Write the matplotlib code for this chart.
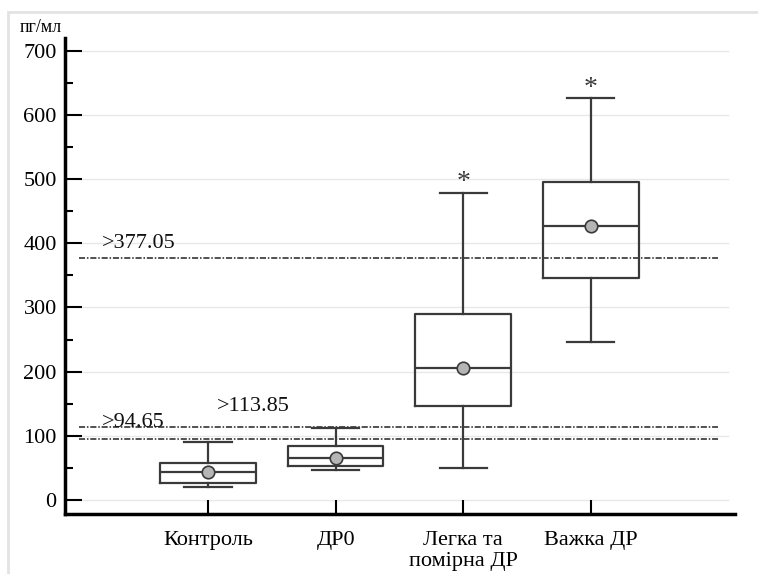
import matplotlib
matplotlib.use("Agg")
import matplotlib.pyplot as plt
from matplotlib.patches import Rectangle
from matplotlib.ticker import MultipleLocator

groups = ["Контроль", "ДР0", "Легка та\nпомірна ДР", "Важка ДР"]
whislo = [20, 47, 50, 246]
q1 = [27, 53, 147, 346]
med = [44, 66, 206, 427]
q3 = [58, 84, 289, 496]
whishi = [90, 112, 479, 626]
means = [44, 65, 206, 427]
starred = [False, False, True, True]

cutoffs = [377.05, 113.85, 94.65]
cutoff_labels = [">377.05", ">113.85", ">94.65"]
cutoff_label_pos = [(0.17, 400), (1.07, 145), (0.17, 120)]

plt.rcParams["font.family"] = ["Liberation Serif", "DejaVu Serif"]

fig = plt.figure(figsize=(7.58, 5.74), dpi=100)
fig.patches.append(Rectangle((8 / 758, -0.1), 1.0, 1.1 - 12 / 574,
                             transform=fig.transFigure, fill=False,
                             edgecolor="#e3e3e3", lw=2))
ax = fig.add_axes([0.0858, 0.1045, 0.8839, 0.8293])

stats = []
for i in range(len(groups)):
    stats.append(dict(whislo=whislo[i], q1=q1[i], med=med[i], q3=q3[i],
                      whishi=whishi[i], mean=means[i], fliers=[]))

line = dict(color="#3a3a3a", lw=1.6)
pos = list(range(1, len(groups) + 1))
ax.bxp(stats, positions=pos, widths=0.75, capwidths=0.37, showmeans=True,
       boxprops=line, whiskerprops=line, capprops=line, medianprops=line,
       meanprops=dict(marker="o", markerfacecolor="#b5b5b5",
                      markeredgecolor="#3a3a3a", markersize=9, markeredgewidth=1.2),
       zorder=3)

for i, s in enumerate(starred):
    if s:
        ax.text(pos[i], whishi[i] - 4, "*", ha="center", va="bottom",
                fontsize=20, color="#3a3a3a")

for v in range(0, 701, 100):
    ax.axhline(v, xmin=0.02, xmax=0.99, color="#e8e8e8", lw=1, zorder=0)

for c in cutoffs:
    ax.axhline(c, xmin=0.021, xmax=0.975, color="#222222", lw=1.1,
               linestyle=(0, (4, 1.2, 1, 1.2)), zorder=2)
for lab, (x, y) in zip(cutoff_labels, cutoff_label_pos):
    ax.text(x, y, lab, fontsize=16, ha="left", va="center", color="#111111")

ax.set_xlim(-0.12, 5.13)
ax.set_ylim(-22, 720)
ax.set_xticks(pos)
ax.set_xticklabels(groups, fontsize=16, va="top", linespacing=1.2)
ax.yaxis.set_major_locator(MultipleLocator(100))
ax.yaxis.set_minor_locator(MultipleLocator(50))
ax.tick_params(axis="y", which="major", direction="in", length=12, width=1.5,
               labelsize=16, pad=6)
ax.tick_params(axis="y", which="minor", direction="in", length=6, width=1.5)
ax.tick_params(axis="x", direction="in", length=10, width=1.5, pad=12)
for s in ["top", "right"]:
    ax.spines[s].set_visible(False)
for s in ["left", "bottom"]:
    ax.spines[s].set_linewidth(2.5)

fig.text(20 / 758, 1 - 27 / 574, "пг/мл", fontsize=13, ha="left", va="center")

fig.savefig("out.png", dpi=100)
